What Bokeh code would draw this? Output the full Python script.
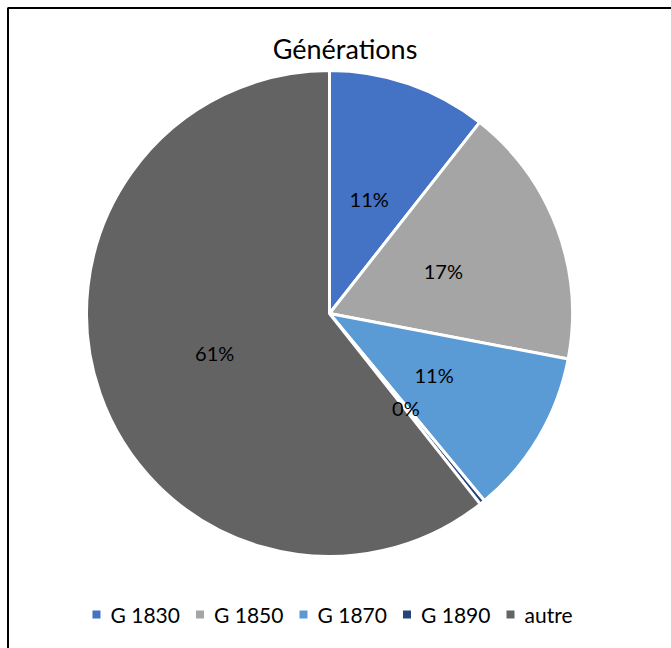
import math
from bokeh.plotting import figure
from bokeh.models import Range1d, ColumnDataSource
from bokeh.core.properties import value
from bokeh.embed import file_html
from bokeh.resources import INLINE

title = "Générations"
categories = ["G 1830", "G 1850", "G 1870", "G 1890", "autre"]
shares = [10.6, 17.4, 11.0, 0.35, 60.65]
colors = ["#4472C4", "#A5A5A5", "#5B9BD5", "#264478", "#636363"]

W, H = 671, 648
FONT = "Lato"

p = figure(width=W, height=H, output_backend="svg", toolbar_location=None,
           x_range=Range1d(0, W), y_range=Range1d(0, H), min_border=0)
p.axis.visible = False
p.grid.visible = False
p.outline_line_color = None
p.background_fill_color = "white"

cx, cy, R = 329, H - 313, 243
total = sum(shares)
starts, ends, lx, ly, labels = [], [], [], [], []
cum = 0.0
for s in shares:
    a0 = math.pi / 2 - 2 * math.pi * cum / total
    a1 = math.pi / 2 - 2 * math.pi * (cum + s) / total
    starts.append(a0)
    ends.append(a1)
    mid = (a0 + a1) / 2
    lx.append(cx + 0.5 * R * math.cos(mid))
    ly.append(cy + 0.5 * R * math.sin(mid))
    labels.append(f"{round(100 * s / total)}%")
    cum += s

src = ColumnDataSource(dict(start=starts, end=ends, color=colors, cat=categories))
p.wedge(x=cx, y=cy, radius=R, start_angle="start", end_angle="end", direction="clock",
        fill_color="color", line_color="white", line_width=3, source=src)

p.text(x=lx, y=ly, text=labels, text_align="center", text_baseline="middle",
       text_font=value(FONT), text_font_size="20px", text_color="black")

p.text(x=[344.5], y=[H - 48], text=[title], text_align="center", text_baseline="middle",
       text_font=value(FONT), text_font_size="27px", text_color="black")

# legend
lx0 = [96 + 103.5 * i for i in range(len(categories))]
p.scatter(x=lx0, y=[H - 614] * len(categories), marker="square", size=8,
          fill_color=colors, line_color=None)
p.text(x=[v + 14 for v in lx0], y=[H - 614] * len(categories), text=categories,
       text_align="left", text_baseline="middle", text_font=value(FONT),
       text_font_size="21px", text_color="black")

# chart frame
p.quad(left=[7.5], right=[W + 20], top=[H - 7.5], bottom=[-20],
       fill_color=None, line_color="black", line_width=2)

open("out.html", "w").write(file_html(p, INLINE))
